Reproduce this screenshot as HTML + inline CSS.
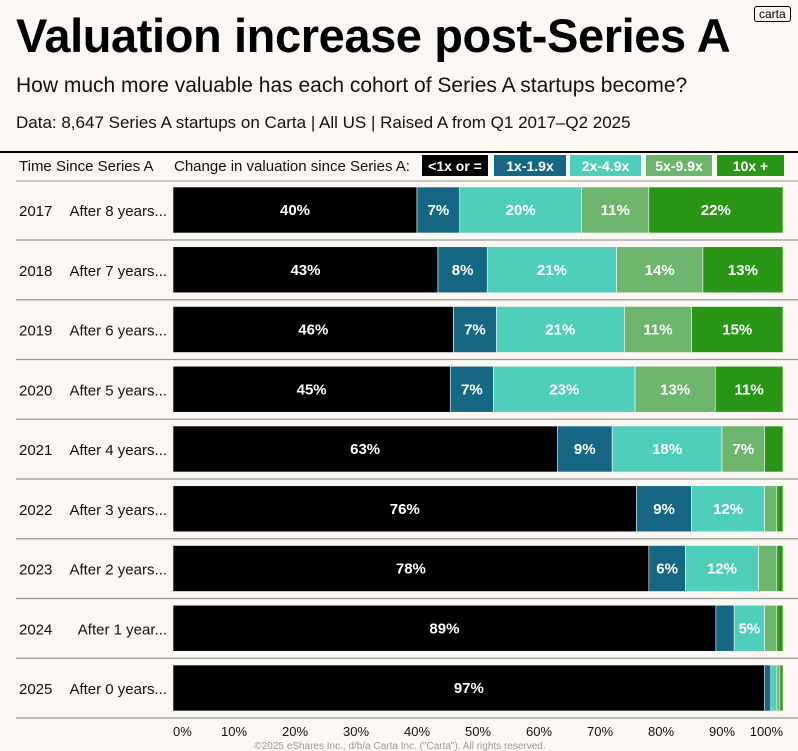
<!DOCTYPE html>
<html><head><meta charset="utf-8"><style>
body{margin:0;background:#fbf8f3;font-family:"Liberation Sans","DejaVu Sans",sans-serif;}
#w{position:relative;width:798px;height:751px;overflow:hidden;background:#fbf8f3}
.t{position:absolute;white-space:nowrap}
</style></head><body><div id="w">
<div class="t" style="left:16px;top:8px;font-size:47px;font-weight:bold;letter-spacing:-0.4px;color:#000">Valuation increase post-Series A</div>
<div class="t" style="left:754px;top:6px;font-size:12px;border:1.5px solid #000;padding:0 4px;border-radius:3px">carta</div>
<div class="t" style="left:16px;top:74px;font-size:21px;color:#111">How much more valuable has each cohort of Series A startups become?</div>
<div class="t" style="left:16px;top:113px;font-size:17px;color:#111">Data: 8,647 Series A startups on Carta | All US | Raised A from Q1 2017–Q2 2025</div>
<svg id="s" width="798" height="751" style="position:absolute;left:0;top:0"></svg>
</div>
<script>
const years=["2017","2018","2019","2020","2021","2022","2023","2024","2025"];
const afterLabels=["After 8 years...","After 7 years...","After 6 years...","After 5 years...","After 4 years...","After 3 years...","After 2 years...","After 1 year...","After 0 years..."];
const seriesNames=["<1x or =","1x-1.9x","2x-4.9x","5x-9.9x","10x +"];
const s1=[40,43,46,45,63,76,78,89,97];
const s2=[7,8,7,7,9,9,6,3,1];
const s3=[20,21,21,23,18,12,12,5,1];
const s4=[11,14,11,13,7,2,3,2,0.5];
const s5=[22,13,15,11,3,1,1,1,0.5];
const ticks=[0,10,20,30,40,50,60,70,80,90,100];
const colors=["#000000","#166784","#4fcfb9","#6db56d","#2a9615"];
const series=[s1,s2,s3,s4,s5];
const NS="http://www.w3.org/2000/svg";
const svg=document.getElementById('s');
const x0=173,x1=783;
const X=v=>x0+(x1-x0)*v/100;
const rowTop=i=>187+i*59.75;
const bh=46;
function el(tag,a,p){const e=document.createElementNS(NS,tag);for(const k in a)e.setAttribute(k,a[k]);(p||svg).appendChild(e);return e;}
let e=el('line',{x1:0,x2:798,y1:152,y2:152,stroke:'#000','stroke-width':2});


e=el('line',{x1:16,x2:798,y1:181,y2:181,stroke:'#999','stroke-width':1});


e=el('text',{x:19,y:171,'font-size':15,fill:'#111'});e.textContent="Time Since Series A";


e=el('text',{x:174,y:171,'font-size':15,fill:'#111'});e.textContent="Change in valuation since Series A:";


const lg=[[422,488],[494,566],[570,641],[646,712],[717,784]];
lg.forEach((p,k)=>{
 const r=el('rect',{x:p[0],y:155,width:p[1]-p[0],height:21,fill:colors[k]});
 
 
 const t=el('text',{x:(p[0]+p[1])/2,y:171,'font-size':14,'font-weight':'bold',fill:'#fff','text-anchor':'middle'});
 t.textContent=seriesNames[k];
 
 
});
years.forEach((y,i)=>{
 const top=rowTop(i);
 let t=el('text',{x:19,y:top+29,'font-size':15,fill:'#111'});t.textContent=y;
 
 
 t=el('text',{x:167,y:top+29,'font-size':15,fill:'#111','text-anchor':'end'});t.textContent=afterLabels[i];
 
 
 let total=0;series.forEach(s=>total+=s[i]);
 const sc=100/total;
 let acc=0;
 series.forEach((s,k)=>{
  const v=s[i];
  const a=acc*sc,b=(acc+v)*sc;
  const r=el('rect',{x:X(a),y:top,width:X(b)-X(a),height:bh,fill:colors[k],stroke:'#fbf8f3','stroke-width':0.6});
  
  
  if(v>=5){
   const tt=el('text',{x:(X(a)+X(b))/2,y:top+28,'font-size':15,'font-weight':'bold',fill:'#fff','text-anchor':'middle'});
   tt.textContent=v+'%';
   
   
  }
  acc+=v;
 });
 const l=el('line',{x1:16,x2:798,y1:top+bh+7,y2:top+bh+7,stroke:'#999','stroke-width':1.2});
 
 
});
ticks.forEach((v,j)=>{
 const anc=j==0?'start':(j==ticks.length-1?'end':'middle');
 const t=el('text',{x:j==0?173:(j==ticks.length-1?783:X(v)),y:736,'font-size':13,fill:'#111','text-anchor':anc});
 t.textContent=v+'%';
 
 
});
e=el('text',{x:400,y:749,'font-size':10,fill:'#999','text-anchor':'middle'});
e.textContent='©2025 eShares Inc., d/b/a Carta Inc. ("Carta"). All rights reserved.';


</script></body></html>
